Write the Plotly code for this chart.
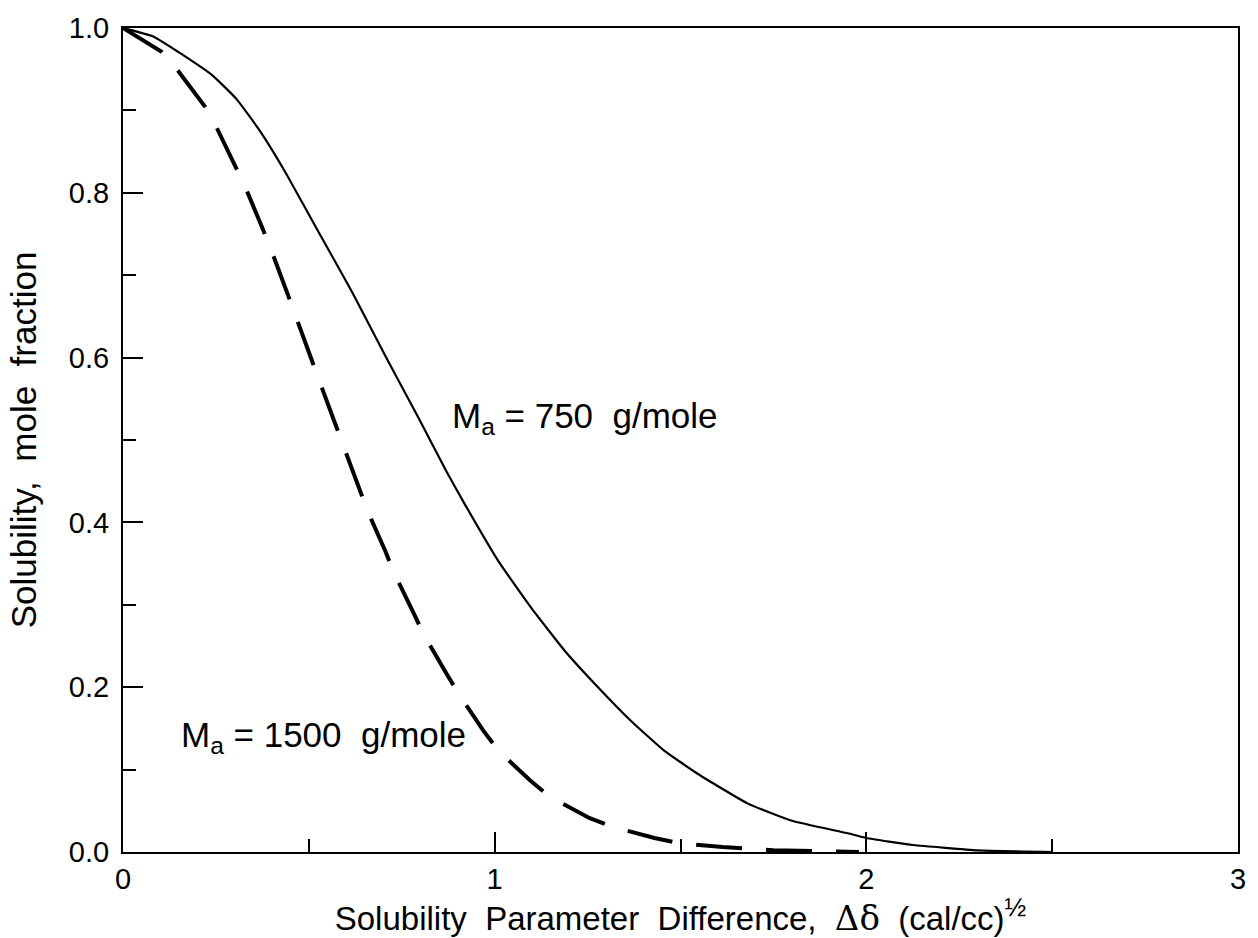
import plotly.graph_objects as go

# Solubility parameter difference (x) and solubility (mole fraction)
x_750 = [0.0, 0.08, 0.162, 0.242, 0.305, 0.367, 0.438, 0.528, 0.617, 0.706, 0.796,
         0.87, 0.921, 1.01, 1.099, 1.189, 1.278, 1.367, 1.456, 1.546, 1.68,
         1.80, 1.947, 2.0, 2.126, 2.30, 2.5]
y_750 = [1.0, 0.99, 0.967, 0.942, 0.914, 0.876, 0.824, 0.751, 0.679, 0.602, 0.526,
         0.462, 0.421, 0.353, 0.296, 0.244, 0.200, 0.159, 0.123, 0.095, 0.059,
         0.038, 0.023, 0.017, 0.0085, 0.002, 0.0]

x_1500 = [0.0, 0.104, 0.148, 0.220, 0.251, 0.303, 0.330, 0.378, 0.401, 0.443, 0.465,
          0.507, 0.528, 0.571, 0.590, 0.635, 0.657, 0.706, 0.729, 0.782, 0.809,
          0.871, 0.903, 0.970, 1.010, 1.095, 1.148, 1.256, 1.314, 1.43, 1.492,
          1.613, 1.75, 1.98]
y_1500 = [1.0, 0.971, 0.948, 0.905, 0.880, 0.831, 0.806, 0.754, 0.728, 0.677, 0.651,
          0.598, 0.572, 0.520, 0.494, 0.443, 0.415, 0.365, 0.339, 0.290, 0.264,
          0.216, 0.192, 0.147, 0.123, 0.087, 0.067, 0.041, 0.031, 0.017, 0.011,
          0.006, 0.002, 0.0]

x_ticks = [0, 1, 2, 3]
y_ticks = [0.0, 0.2, 0.4, 0.6, 0.8, 1.0]
y_tick_labels = ["0.0", "0.2", "0.4", "0.6", "0.8", "1.0"]

label_750 = "M<sub>a</sub> = 750  g/mole"
label_1500 = "M<sub>a</sub> = 1500  g/mole"

FONT = "Liberation Sans, Arial, Helvetica, sans-serif"

fig = go.Figure()
fig.add_trace(go.Scatter(x=x_750, y=y_750, mode="lines",
                         line=dict(color="black", width=2.2, shape="spline", smoothing=0.4),
                         showlegend=False, hoverinfo="skip"))
fig.add_trace(go.Scatter(x=x_1500, y=y_1500, mode="lines",
                         line=dict(color="black", width=4, dash="46px,24px"),
                         showlegend=False, hoverinfo="skip"))

fig.add_annotation(x=0.881, y=0.527, xref="x", yref="y", text=label_750,
                   showarrow=False, xanchor="left", yanchor="middle",
                   font=dict(family=FONT, size=35, color="black"))
fig.add_annotation(x=0.152, y=0.140, xref="x", yref="y", text=label_1500,
                   showarrow=False, xanchor="left", yanchor="middle",
                   font=dict(family=FONT, size=35, color="black"))

x_title = ("Solubility  Parameter  Difference,  "
           "<span style=\"font-family:'DejaVu Serif', 'Liberation Serif', serif; font-size:34px\">Δδ</span>"
           "  (cal/cc)<sup><span style=\"font-size:26px\">½</span></sup>")

fig.update_layout(
    width=1258, height=938,
    margin=dict(l=123, r=15, t=24, b=86),
    paper_bgcolor="white", plot_bgcolor="white",
    font=dict(family=FONT, color="black"),
    showlegend=False,
)
fig.update_xaxes(
    range=[0, 3], tickvals=x_ticks, ticktext=[str(v) for v in x_ticks],
    ticks="inside", ticklen=20, tickwidth=2, tickcolor="black",
    showline=True, linecolor="black", linewidth=2, mirror=True,
    showgrid=False, zeroline=False,
    tickfont=dict(family=FONT, size=29),
    minor=dict(dtick=0.5, ticks="inside", ticklen=13, tickwidth=2, tickcolor="black", showgrid=False),
    title=dict(text=x_title, font=dict(family=FONT, size=33), standoff=2),
)
fig.update_yaxes(
    range=[0, 1], tickvals=y_ticks, ticktext=y_tick_labels,
    ticks="inside", ticklen=20, tickwidth=2, tickcolor="black",
    showline=True, linecolor="black", linewidth=2, mirror=True,
    showgrid=False, zeroline=False,
    tickfont=dict(family=FONT, size=29), ticklabelstandoff=6,
    minor=dict(dtick=0.1, ticks="inside", ticklen=13, tickwidth=2, tickcolor="black", showgrid=False),
    title=dict(text="Solubility,  mole  fraction", font=dict(family=FONT, size=35), standoff=22),
)

fig.write_html("out.html")
